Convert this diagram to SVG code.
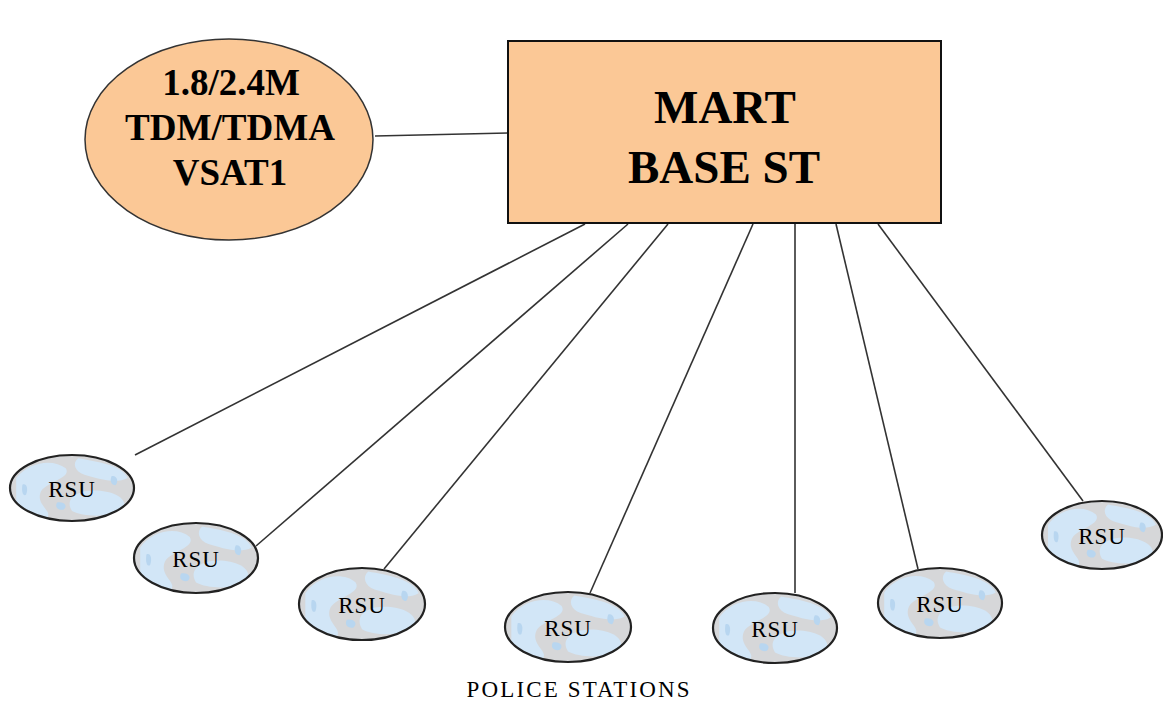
<svg xmlns="http://www.w3.org/2000/svg" width="1163" height="704" viewBox="0 0 1163 704">
  <style>
    .peach { fill: #fbc896; stroke: #333; stroke-width: 1.5; }
    .box { fill: #fbc896; stroke: #111; stroke-width: 2; }
    .rsu { fill: url(#globe); stroke: #222; stroke-width: 2.2; }
    .link { stroke: #333; stroke-width: 1.6; fill: none; }
    .big { font-family: "Liberation Serif", "Times New Roman", serif; font-weight: bold; fill: #000; text-anchor: middle; }
    .small { font-family: "Liberation Serif", "Times New Roman", serif; fill: #000; text-anchor: middle; }
  </style>
  <defs>
    <!-- map-like texture for the RSU ellipses -->
    <pattern id="globe" patternUnits="objectBoundingBox" patternContentUnits="objectBoundingBox" width="1" height="1">
      <rect width="1" height="1" fill="#d6d7d9"/>
      <path d="M0.05,0.35 C0.15,0.1 0.35,0.05 0.45,0.2 C0.5,0.35 0.3,0.4 0.25,0.55 C0.2,0.75 0.35,0.85 0.3,0.95 L0.05,0.9 Z" fill="#d2e6f7"/>
      <path d="M0.55,0.05 C0.7,0.1 0.9,0.15 0.95,0.35 C0.85,0.45 0.7,0.35 0.6,0.3 C0.52,0.25 0.5,0.12 0.55,0.05 Z" fill="#d2e6f7"/>
      <path d="M0.6,0.55 C0.75,0.5 0.95,0.6 0.92,0.8 C0.85,0.95 0.6,0.95 0.5,0.85 C0.45,0.7 0.5,0.6 0.6,0.55 Z" fill="#d2e6f7"/>
      <path d="M0.1,0.45 C0.13,0.42 0.15,0.5 0.13,0.6 C0.11,0.63 0.09,0.58 0.1,0.45 Z" fill="#b8d6f0"/>
      <path d="M0.82,0.32 C0.86,0.3 0.88,0.4 0.85,0.46 C0.82,0.46 0.8,0.4 0.82,0.32 Z" fill="#b8d6f0"/>
      <path d="M0.38,0.72 C0.44,0.7 0.47,0.78 0.43,0.83 C0.38,0.84 0.36,0.78 0.38,0.72 Z" fill="#b8d6f0"/>
    </pattern>
  </defs>

  <g id="connectors">
    <line class="link" x1="375" y1="136" x2="508" y2="133"/>
    <line class="link" x1="585" y1="224" x2="135" y2="455"/>
    <line class="link" x1="628" y1="224" x2="256" y2="546"/>
    <line class="link" x1="668" y1="224" x2="384" y2="569"/>
    <line class="link" x1="753" y1="224" x2="590" y2="593"/>
    <line class="link" x1="795" y1="224" x2="795" y2="593"/>
    <line class="link" x1="836" y1="224" x2="918" y2="569"/>
    <line class="link" x1="878" y1="224" x2="1083" y2="501"/>
  </g>

  <g id="vsat">
    <ellipse class="peach" cx="229" cy="139.5" rx="144" ry="100.5"/>
    <text class="big" x="231" y="95" font-size="37">1.8/2.4M</text>
    <text class="big" x="230" y="140" font-size="37" textLength="210" lengthAdjust="spacingAndGlyphs">TDM/TDMA</text>
    <text class="big" x="230" y="185" font-size="37">VSAT1</text>
  </g>

  <g id="base-station">
    <rect class="box" x="508" y="41" width="433" height="182"/>
    <text class="big" x="725" y="123" font-size="47">MART</text>
    <text class="big" x="724" y="183" font-size="47">BASE ST</text>
  </g>

  <g id="rsu-1">
    <ellipse class="rsu" cx="72" cy="488" rx="62" ry="33"/>
    <text class="small" x="72" y="497" font-size="23" letter-spacing="1">RSU</text>
  </g>
  <g id="rsu-2">
    <ellipse class="rsu" cx="196" cy="558" rx="62" ry="35"/>
    <text class="small" x="196" y="567" font-size="23" letter-spacing="1">RSU</text>
  </g>
  <g id="rsu-3">
    <ellipse class="rsu" cx="362" cy="604" rx="63" ry="36"/>
    <text class="small" x="362" y="613" font-size="23" letter-spacing="1">RSU</text>
  </g>
  <g id="rsu-4">
    <ellipse class="rsu" cx="568" cy="627" rx="63" ry="35"/>
    <text class="small" x="568" y="636" font-size="23" letter-spacing="1">RSU</text>
  </g>
  <g id="rsu-5">
    <ellipse class="rsu" cx="775" cy="628" rx="62" ry="35"/>
    <text class="small" x="775" y="637" font-size="23" letter-spacing="1">RSU</text>
  </g>
  <g id="rsu-6">
    <ellipse class="rsu" cx="940" cy="603" rx="62" ry="35"/>
    <text class="small" x="940" y="612" font-size="23" letter-spacing="1">RSU</text>
  </g>
  <g id="rsu-7">
    <ellipse class="rsu" cx="1102" cy="535" rx="60" ry="34"/>
    <text class="small" x="1102" y="544" font-size="23" letter-spacing="1">RSU</text>
  </g>

  <g id="caption">
    <text class="small" x="578" y="697" font-size="23" textLength="223" lengthAdjust="spacing">POLICE STATIONS</text>
  </g>
</svg>
